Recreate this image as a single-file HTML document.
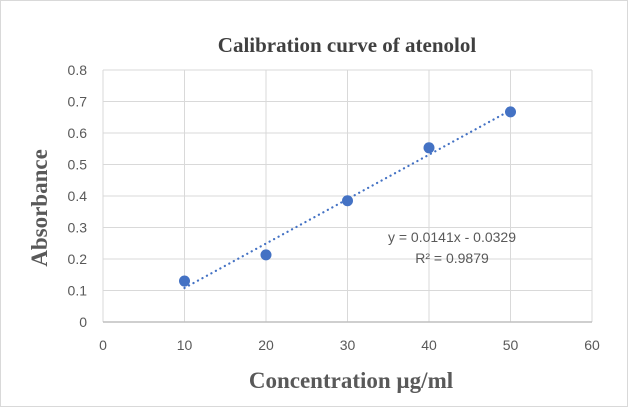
<!DOCTYPE html>
<html><head><meta charset="utf-8"><style>
html,body{margin:0;padding:0;background:#fff;}
svg{display:block;font-family:"Liberation Sans",sans-serif;}
</style></head><body>
<svg id="chart" width="628" height="407">
<rect x="0.5" y="0.5" width="627" height="406" fill="#fff" stroke="#d9d9d9"/>
<text x="347" y="52" text-anchor="middle" font-family="Liberation Serif,serif" font-weight="bold" font-size="21" fill="#404040">Calibration  curve of atenolol</text>
<g id="grid"></g><g id="ticks"></g><g id="marks"></g>
<text x="351" y="388" text-anchor="middle" font-family="Liberation Serif,serif" font-weight="bold" font-size="23" fill="#595959">Concentration  µg/ml</text>
<text transform="translate(47,208) rotate(-90)" text-anchor="middle" font-family="Liberation Serif,serif" font-weight="bold" font-size="23" fill="#595959">Absorbance</text>
<text x="452" y="242" text-anchor="middle" font-size="14" fill="#595959">y = 0.0141x - 0.0329</text>
<text x="452" y="263" text-anchor="middle" font-size="14" fill="#595959">R² = 0.9879</text>
</svg>
<script>
const xValues=[10,20,30,40,50];
const yValues=[0.13,0.213,0.385,0.553,0.667];
const xTicks=[0,10,20,30,40,50,60];
const yTicks=[0,0.1,0.2,0.3,0.4,0.5,0.6,0.7,0.8];
const slope=0.0141, intercept=-0.0329;
const NS="http://www.w3.org/2000/svg";
const X0=103,X1=592,Y0=322,Y1=70;
const sx=v=>X0+(v-0)/(60-0)*(X1-X0);
const sy=v=>Y0-(v-0)/(0.8-0)*(Y0-Y1);
function mk(p,tag,a){const e=document.createElementNS(NS,tag);for(const k in a)e.setAttribute(k,a[k]);p.appendChild(e);return e;}
const grid=document.getElementById('grid'),ticks=document.getElementById('ticks'),marks=document.getElementById('marks');
yTicks.forEach(t=>{
 const l=mk(grid,'line',{x1:X0,x2:X1,y1:sy(t),y2:sy(t),stroke:'#d9d9d9','stroke-width':1});
 
 
 const tx=mk(ticks,'text',{x:X0-16,y:sy(t)+5,'text-anchor':'end','font-size':14,fill:'#595959'});
 tx.textContent=String(t);
 
 
});
xTicks.forEach(t=>{
 const l=mk(grid,'line',{x1:sx(t),x2:sx(t),y1:Y1,y2:Y0,stroke:'#d9d9d9','stroke-width':1});
 
 
 const tx=mk(ticks,'text',{x:sx(t),y:Y0+28,'text-anchor':'middle','font-size':14,fill:'#595959'});
 tx.textContent=String(t);
 
 
});
const ax=mk(grid,'line',{x1:X0,x2:X1,y1:Y0,y2:Y0,stroke:'#bfbfbf','stroke-width':1.5});


const xa=xValues[0],xb=xValues[xValues.length-1];
const tl=mk(marks,'line',{x1:sx(xa),y1:sy(slope*xa+intercept),x2:sx(xb),y2:sy(slope*xb+intercept),stroke:'#4472c4','stroke-width':2.2,'stroke-dasharray':'0.1 5','stroke-linecap':'round'});


xValues.forEach((x,i)=>{
 const c=mk(marks,'circle',{cx:sx(x),cy:sy(yValues[i]),r:5.5,fill:'#4472c4'});
 
 
});
</script>
</body></html>
